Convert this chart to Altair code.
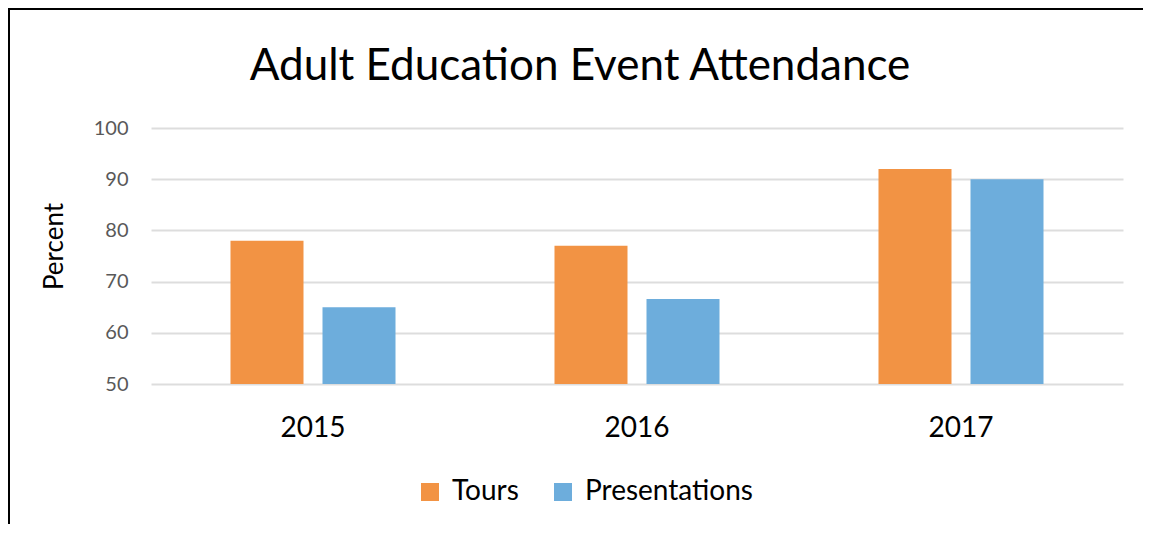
import altair as alt
import pandas as pd

years = ["2015", "2016", "2017"]
tours = [78, 77, 92]
presentations = [65, 66.6, 90]
series = ["Tours", "Presentations"]
colors = ["#F29344", "#6DADDC"]
y_ticks = [50, 60, 70, 80, 90, 100]
title_text = "Adult Education Event Attendance"

rows = []
for i, y in enumerate(years):
    rows.append({"year": y, "series": "Tours", "value": tours[i]})
    rows.append({"year": y, "series": "Presentations", "value": presentations[i]})
df = pd.DataFrame(rows)

FONT = "Lato"

bars = alt.Chart(df).mark_bar().encode(
    x=alt.X("year:N", sort=years, title=None,
            scale=alt.Scale(paddingInner=0, paddingOuter=0),
            axis=alt.Axis(labelAngle=0, labelFontSize=28, labelColor="#000000",
                          labelPadding=30, domain=False, ticks=False, labelFont=FONT)),
    xOffset=alt.XOffset("series:N", sort=series,
                        scale=alt.Scale(paddingInner=0.2065, paddingOuter=0.864)),
    y=alt.Y("value:Q", title="Percent",
            scale=alt.Scale(domain=[50, 100], zero=False, nice=False),
            axis=alt.Axis(values=y_ticks, labelFontSize=20, labelColor="#595959",
                          labelPadding=23, domain=False, ticks=False,
                          gridColor="#DDDDDD", gridWidth=2,
                          titleFontSize=26, titleFontWeight="normal",
                          titleColor="#000000", titlePadding=26, titleY=118,
                          labelFont=FONT, titleFont=FONT)),
    y2=alt.datum(50),
    color=alt.Color("series:N", sort=series,
                    scale=alt.Scale(domain=series, range=colors),
                    legend=alt.Legend(title=None, orient="none", direction="horizontal",
                                      legendX=265, legendY=350,
                                      symbolType="square", symbolSize=324,
                                      symbolStrokeWidth=0, labelFontSize=28,
                                      labelFont=FONT, labelColor="#000000",
                                      labelLimit=0,
                                      labelOffset=8, columnPadding=30)),
)

one = pd.DataFrame({"k": [0]})
border_left = alt.Chart(one).mark_rect(color="#000000", clip=False).encode(
    x=alt.value(-143), x2=alt.value(-141), y=alt.value(-120), y2=alt.value(396)
)
border_top = alt.Chart(one).mark_rect(color="#000000", clip=False).encode(
    x=alt.value(-143), x2=alt.value(992), y=alt.value(-120), y2=alt.value(-118)
)
title = alt.Chart(one).mark_text(
    font=FONT, fontSize=44, color="#000000", align="center", baseline="alphabetic"
).encode(x=alt.value(429), y=alt.value(-48), text=alt.value(title_text))

chart = alt.layer(bars, border_left, border_top, title).properties(
    width=972, height=256,
    padding={"left": 143, "top": 120, "right": 20, "bottom": 140},
    autosize=alt.AutoSizeParams(type="none"),
).configure_view(stroke=None)

chart.save("out.html", embed_options={"renderer": "svg", "actions": False})
